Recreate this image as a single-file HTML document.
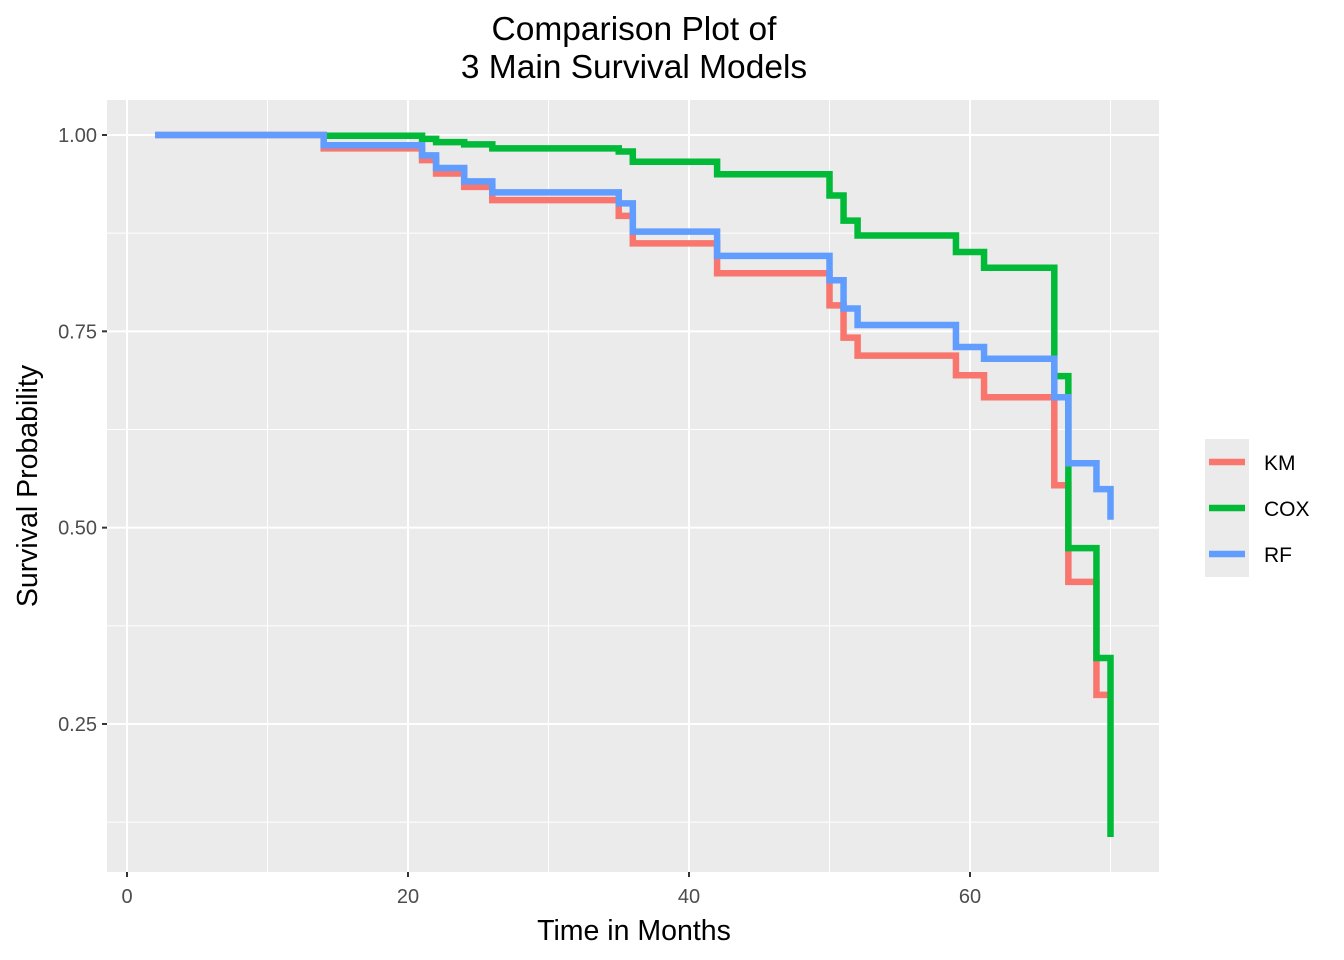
<!DOCTYPE html>
<html><head><meta charset="utf-8"><style>
body{margin:0;background:#fff;}
svg{display:block;font-family:"Liberation Sans",Arial,sans-serif;}
</style></head><body>
<svg id="chart" width="1344" height="960" xmlns="http://www.w3.org/2000/svg">
<rect width="1344" height="960" fill="#fff"/>
<text x="634" y="40" text-anchor="middle" font-size="33.5" fill="#000">Comparison Plot of</text>
<text x="634" y="78" text-anchor="middle" font-size="33.5" fill="#000">3 Main Survival Models</text>
<rect x="107" y="100" width="1052" height="772" fill="#ebebeb"/>
<g id="grid"></g>
<g id="series"></g>
<g id="axes"></g>
<text x="634" y="940" text-anchor="middle" font-size="28.5" fill="#000">Time in Months</text>
<text transform="translate(37,486) rotate(-90)" text-anchor="middle" font-size="28.5" fill="#000">Survival Probability</text>
<g id="legend"></g>
</svg>
<script>
const seriesNames = ["KM","COX","RF"];
const seriesColors = ["#f8766d","#00ba38","#619cff"];
const kmTimes = [2,14,21,22,24,26,35,36,42,50,51,52,59,61,66,67,69,70];
const kmSurv  = [1.0,0.983,0.968,0.951,0.934,0.917,0.897,0.862,0.824,0.783,0.742,0.719,0.694,0.666,0.554,0.431,0.287,0.287];
const coxTimes = [14,21,22,24,26,35,36,42,50,51,52,59,61,66,67,69,70,70];
const coxSurv  = [0.999,0.995,0.991,0.988,0.983,0.979,0.966,0.950,0.923,0.891,0.872,0.851,0.831,0.693,0.474,0.334,0.334,0.106];
const rfTimes = [2,14,21,22,24,26,35,36,42,50,51,52,59,61,66,67,69,70,70];
const rfSurv  = [1.0,0.987,0.974,0.958,0.941,0.927,0.913,0.877,0.846,0.815,0.779,0.758,0.730,0.715,0.666,0.582,0.549,0.549,0.510];
const xTicks = [0,20,40,60];
const xMinor = [10,30,50,70];
const yTicks = [0.25,0.50,0.75,1.00];
const yTickLabels = ["0.25","0.50","0.75","1.00"];
const yMinor = [0.125,0.375,0.625,0.875];

const NS="http://www.w3.org/2000/svg";
const X = t => 127 + t*14.05;
const Y = v => 135 + (1-v)*785.3;
const PL=107, PR=1159, PT=100, PB=872;
function mk(tag, attrs, parent){const e=document.createElementNS(NS,tag);for(const k in attrs)e.setAttribute(k,attrs[k]);parent.appendChild(e);return e;}
const grid=document.getElementById('grid'), axes=document.getElementById('axes'), ser=document.getElementById('series'), leg=document.getElementById('legend');
xMinor.forEach(t=>{const l=mk('line',{x1:X(t),x2:X(t),y1:PT,y2:PB,stroke:'#fff','stroke-width':1},grid);

});
yMinor.forEach(v=>{const l=mk('line',{x1:PL,x2:PR,y1:Y(v),y2:Y(v),stroke:'#fff','stroke-width':1},grid);

});
xTicks.forEach(t=>{const l=mk('line',{x1:X(t),x2:X(t),y1:PT,y2:PB,stroke:'#fff','stroke-width':2},grid);


const tk=mk('line',{x1:X(t),x2:X(t),y1:PB,y2:PB+5,stroke:'#333','stroke-width':2},axes);


const tx=mk('text',{x:X(t),y:PB+31,'text-anchor':'middle','font-size':20,fill:'#4d4d4d'},axes);tx.textContent=String(t);

});
yTicks.forEach((v,i)=>{const l=mk('line',{x1:PL,x2:PR,y1:Y(v),y2:Y(v),stroke:'#fff','stroke-width':2},grid);


const tk=mk('line',{x1:PL-5,x2:PL,y1:Y(v),y2:Y(v),stroke:'#333','stroke-width':2},axes);


const tx=mk('text',{x:PL-10,y:Y(v)+7,'text-anchor':'end','font-size':20,fill:'#4d4d4d'},axes);tx.textContent=yTickLabels[i];

});
function stepPath(ts,vs){let d='M'+X(ts[0])+','+Y(vs[0]);for(let i=1;i<ts.length;i++){d+=' H'+X(ts[i])+' V'+Y(vs[i]);}return d;}
const allT=[kmTimes,coxTimes,rfTimes], allS=[kmSurv,coxSurv,rfSurv];
allT.forEach((ts,i)=>{const p=mk('path',{d:stepPath(ts,allS[i]),fill:'none',stroke:seriesColors[i],'stroke-width':6.5,'stroke-linejoin':'miter'},ser);

});
const lb=mk('rect',{x:1205,y:439,width:44,height:138,fill:'#ebebeb'},leg);


seriesNames.forEach((n,i)=>{const y=462+i*46;
const ln=mk('line',{x1:1209,x2:1245,y1:y,y2:y,stroke:seriesColors[i],'stroke-width':6.5},leg);


const t=mk('text',{x:1264,y:y+8,'font-size':21,fill:'#000'},leg);t.textContent=n;

});
</script>
</body></html>
